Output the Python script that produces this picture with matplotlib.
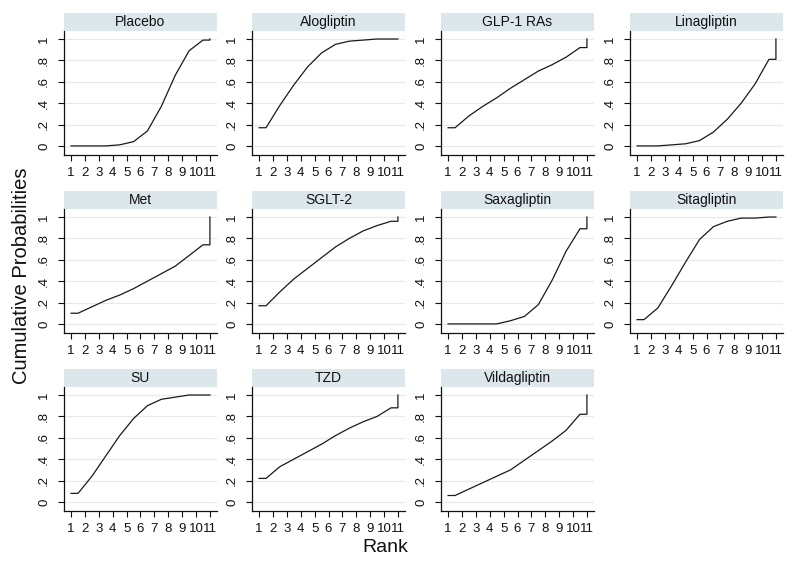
import matplotlib
matplotlib.use("Agg")
import matplotlib.pyplot as plt
from matplotlib.patches import Rectangle
import numpy as np

plt.rcParams['font.family'] = ['Liberation Sans', 'DejaVu Sans']

treatments = ["Placebo", "Alogliptin", "GLP-1 RAs", "Linagliptin",
              "Met", "SGLT-2", "Saxagliptin", "Sitagliptin",
              "SU", "TZD", "Vildagliptin"]

ranks = list(range(1, 12))
rank_labels = [str(r) for r in ranks]

# cumulative probabilities for ranks 1..10 (rank 11 is 1)
cum_placebo = [0.00, 0.00, 0.00, 0.01, 0.04, 0.14, 0.37, 0.66, 0.89, 0.99]
cum_alogliptin = [0.17, 0.38, 0.57, 0.74, 0.87, 0.95, 0.98, 0.99, 1.00, 1.00]
cum_glp1 = [0.17, 0.28, 0.37, 0.45, 0.54, 0.62, 0.70, 0.76, 0.83, 0.92]
cum_linagliptin = [0.00, 0.00, 0.01, 0.02, 0.05, 0.13, 0.25, 0.40, 0.58, 0.81]
cum_met = [0.10, 0.16, 0.22, 0.27, 0.33, 0.40, 0.47, 0.54, 0.64, 0.74]
cum_sglt2 = [0.17, 0.30, 0.42, 0.52, 0.62, 0.72, 0.80, 0.87, 0.92, 0.96]
cum_saxagliptin = [0.00, 0.00, 0.00, 0.00, 0.03, 0.07, 0.18, 0.41, 0.68, 0.89]
cum_sitagliptin = [0.04, 0.15, 0.36, 0.58, 0.79, 0.91, 0.96, 0.99, 0.99, 1.00]
cum_su = [0.08, 0.24, 0.43, 0.62, 0.78, 0.90, 0.96, 0.98, 1.00, 1.00]
cum_tzd = [0.22, 0.33, 0.40, 0.47, 0.54, 0.62, 0.69, 0.75, 0.80, 0.88]
cum_vildagliptin = [0.06, 0.12, 0.18, 0.24, 0.30, 0.39, 0.48, 0.57, 0.67, 0.82]

series = [cum_placebo, cum_alogliptin, cum_glp1, cum_linagliptin,
          cum_met, cum_sglt2, cum_saxagliptin, cum_sitagliptin,
          cum_su, cum_tzd, cum_vildagliptin]

yticks = [0, 0.2, 0.4, 0.6, 0.8, 1.0]
ytick_labels = ["0", ".2", ".4", ".6", ".8", "1"]

W, H = 797, 562
fig = plt.figure(figsize=(W / 100, H / 100), dpi=100)

col_left = [64, 252, 441, 630]
ax_w = 153
row_top = [31, 209, 387]
ax_h = 124
strip_h = 18

for i, (name, cum) in enumerate(zip(treatments, series)):
    r, c = divmod(i, 4)
    l = col_left[c]
    t = row_top[r]
    ax = fig.add_axes([l / W, 1 - (t + ax_h) / H, ax_w / W, ax_h / H])
    xs = [ranks[0]] + [k + 0.5 for k in ranks[:-1]] + [ranks[-1], ranks[-1]]
    ys = [cum[0]] + list(cum) + [cum[-1], 1.0]
    ax.plot(xs, ys, color='#1a1a1a', lw=0.9)
    ax.set_xlim(0.49, 11.51)
    ax.set_ylim(-0.085, 1.075)
    ax.set_yticks(yticks)
    ax.set_yticklabels(ytick_labels, rotation=90, va='center')
    ax.set_xticks(ranks)
    ax.set_xticklabels(rank_labels)
    ax.tick_params(axis='both', direction='out', length=4, width=0.8,
                   labelsize=9.5, color='#111111', labelcolor='#111111')
    ax.tick_params(axis='y', pad=6)
    ax.tick_params(axis='x', pad=5)
    for s in ['top', 'right']:
        ax.spines[s].set_visible(False)
    for s in ['left', 'bottom']:
        ax.spines[s].set_color('#111111')
        ax.spines[s].set_linewidth(0.9)
    ax.grid(axis='y', color='#e6eaec', lw=0.9)
    ax.set_axisbelow(True)
    rect = Rectangle((0, 1), 1, strip_h / ax_h, transform=ax.transAxes,
                     facecolor='#dce7ec', edgecolor='none', clip_on=False)
    ax.add_patch(rect)
    ax.text(0.5, 1 + strip_h / ax_h / 2, name, transform=ax.transAxes,
            ha='center', va='center', fontsize=10, color='#111111')

fig.text(22 / W, 1 - 276 / H, "Cumulative Probabilities", rotation=90,
         ha='center', va='center', fontsize=14.5, color='#111111')
fig.text(385 / W, 1 - 548 / H, "Rank", ha='center', va='center',
         fontsize=14, color='#111111')

fig.savefig("out.png", dpi=100, facecolor='white')
